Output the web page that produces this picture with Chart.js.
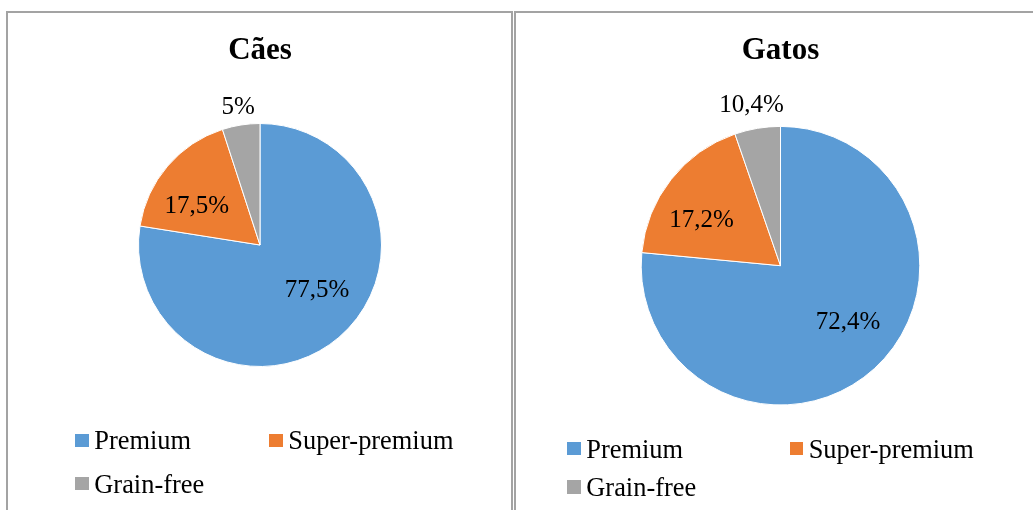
<!DOCTYPE html>
<html><head><meta charset="utf-8">
<script src="https://cdn.jsdelivr.net/npm/chart.js@4.4.1/dist/chart.umd.min.js"></script>
<style>
html,body{margin:0;padding:0;background:#fff;width:1033px;height:510px;overflow:hidden;position:relative}
.panel{position:absolute;border:2px solid #a3a3a3;box-sizing:border-box}
canvas{position:absolute}
.leg{position:absolute;height:30px;font-family:'Liberation Serif','Times New Roman',serif;font-size:26.4px;line-height:30px;color:#000;white-space:nowrap}
.leg .sw{position:absolute;left:0;top:8.3px;width:13.4px;height:13.4px}
.leg .tx{position:absolute;left:19px;top:0}
</style></head><body>
<div class="panel" style="left:6px;top:11px;width:507px;height:520px"></div>
<div class="panel" style="left:514px;top:11px;width:540px;height:520px"></div>
<canvas id="c1" width="506" height="498" style="left:7px;top:12px"></canvas>
<canvas id="c2" width="531" height="498" style="left:515px;top:12px"></canvas>
<div id="leg1"></div><div id="leg2"></div>
<script>
// ---- data ----
const categories = ['Premium', 'Super-premium', 'Grain-free'];
const sliceColors = ['#5B9BD5', '#ED7D31', '#A5A5A5'];
const caesTitle = 'Cães';
const caesValues = [77.5, 17.5, 5];
const caesLabels = ['77,5%', '17,5%', '5%'];
const gatosTitle = 'Gatos';
const gatosValues = [76.5, 18.2, 5.3];      // slice sizes as drawn in the picture
const gatosLabels = ['72,4%', '17,2%', '10,4%']; // printed labels

const serif = "'Liberation Serif','Times New Roman',serif";

const sliceLabels = {
  id: 'sliceLabels',
  afterDatasetsDraw(chart, args, opts) {
    const ctx = chart.ctx;
    const meta = chart.getDatasetMeta(0);
    ctx.save();
    ctx.font = opts.size + 'px ' + serif;
    ctx.fillStyle = '#000';
    ctx.textAlign = 'center';
    ctx.textBaseline = 'middle';
    meta.data.forEach((arc, i) => {
      const p = arc.getProps(['x', 'y', 'startAngle', 'endAngle', 'outerRadius'], true);
      const pl = opts.place[i];
      const a = (p.startAngle + p.endAngle) / 2 + pl.shift * Math.PI / 180;
      const d = p.outerRadius * pl.f;
      ctx.fillText(opts.texts[i], p.x + d * Math.cos(a), p.y + d * Math.sin(a));
    });
    ctx.restore();
  }
};

function makePie(id, title, values, texts, radius, padBottom, place) {
  return new Chart(document.getElementById(id), {
    type: 'pie',
    data: {
      labels: categories,
      datasets: [{
        data: values,
        backgroundColor: sliceColors,
        borderColor: '#ffffff',
        borderWidth: 1
      }]
    },
    plugins: [sliceLabels],
    options: {
      responsive: false,
      animation: false,
      radius: radius,
      layout: { padding: { top: 0, bottom: padBottom, left: 0, right: 0 } },
      plugins: {
        legend: { display: false },
        tooltip: { enabled: false },
        title: {
          display: true, text: title, color: '#000',
          font: { family: serif, size: 31, weight: 'bold', lineHeight: 1.2 },
          padding: { top: 20, bottom: 0 }
        },
        sliceLabels: { texts: texts, size: 25, place: place }
      }
    }
  });
}

makePie('c1', caesTitle, caesValues, caesLabels, 121.5, 89.2,
  [{ shift: -11, f: 0.6 }, { shift: -9, f: 0.61 }, { shift: 0, f: 1.15 }]);
makePie('c2', gatosTitle, gatosValues, gatosLabels, 139.3, 47.8,
  [{ shift: -7.6, f: 0.635 }, { shift: -8.5, f: 0.653 }, { shift: -0.7, f: 1.172 }]);

function makeLegend(elId, cols, rows) {
  const host = document.getElementById(elId);
  const slots = [[0, 0], [1, 0], [0, 1]];
  categories.forEach((name, i) => {
    const [c, r] = slots[i];
    const d = document.createElement('div');
    d.className = 'leg';
    d.style.left = cols[c] + 'px';
    d.style.top = (rows[r] - 24) + 'px';
    d.innerHTML = '<span class="sw" style="background:' + sliceColors[i] + '"></span><span class="tx">' + name + '</span>';
    host.appendChild(d);
  });
}
makeLegend('leg1', [75.3, 269.3], [449.3, 492.7]);
makeLegend('leg2', [567.3, 789.7], [457.7, 496]);
</script>
</body></html>
